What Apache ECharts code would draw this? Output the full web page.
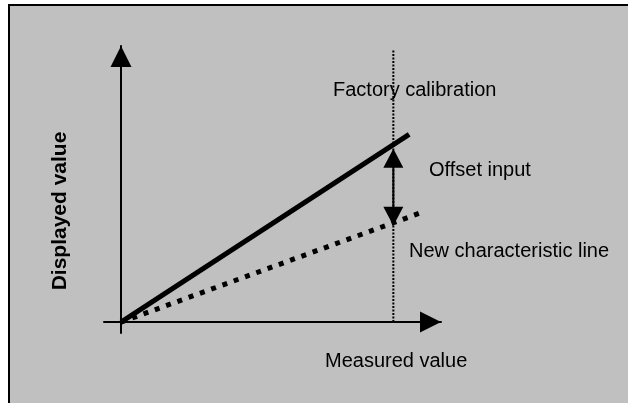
<!DOCTYPE html>
<html>
<head>
<meta charset="utf-8">
<script src="https://cdn.jsdelivr.net/npm/echarts@6/dist/echarts.min.js"></script>
<style>
  html, body { margin: 0; padding: 0; background: #fff; }
  #chart { width: 628px; height: 403px; }
</style>
</head>
<body>
<div id="chart"></div>
<script>
// 校准示意图：出厂特性线与偏移后的新特性线
const factoryLine = [[0, 0], [10.58, 6.9]]
const newLine = [[0, 0], [10.95, 4.0]]
const calibrationMark = [[10, 0], [10, 10]]
const offsetArrow = [[10, 6.02], [10, 3.89]]
const xRange = [-0.625, 11.75]
const yRange = [-0.4, 10.15]
const labels = ['Factory calibration', 'Offset input', 'New characteristic line', 'Measured value', 'Displayed value']

const font = '20px "Liberation Sans", Arial, sans-serif'
const chart = echarts.init(document.getElementById('chart'))

const axisCommon = {
  type: 'value',
  axisLine: {
    onZero: true,
    symbol: ['none', 'triangle'],
    symbolSize: [21, 21],
    symbolOffset: [0, -10.5],
    lineStyle: { color: '#000', width: 2 },
  },
  axisTick: { show: false },
  axisLabel: { show: false },
  splitLine: { show: false },
}

const option = {
  animation: false,
  grid: { left: 104, top: 46, width: 337, height: 287 },
  xAxis: Object.assign({}, axisCommon, { min: xRange[0], max: xRange[1] }),
  yAxis: Object.assign({}, axisCommon, { min: yRange[0], max: yRange[1] }),
  graphic: [
    // 灰色背景框
    {
      type: 'rect', z: -10, silent: true,
      shape: { x: 9, y: 5, width: 640, height: 420 },
      style: { fill: '#c0c0c0', stroke: '#000', lineWidth: 2 },
    },
    { type: 'text', x: 333, y: 90, z: 10, style: { text: labels[0], font: font, fill: '#000', verticalAlign: 'middle' } },
    { type: 'text', x: 429, y: 170.5, z: 10, style: { text: labels[1], font: font, fill: '#000', verticalAlign: 'middle' } },
    { type: 'text', x: 409, y: 251.5, z: 10, style: { text: labels[2], font: font, fill: '#000', verticalAlign: 'middle' } },
    { type: 'text', x: 325, y: 361, z: 10, style: { text: labels[3], font: font, fill: '#000', verticalAlign: 'middle' } },
    {
      type: 'text', x: 60, y: 211, rotation: Math.PI / 2, z: 10,
      style: { text: labels[4], font: 'bold 21px "Liberation Sans", Arial, sans-serif', fill: '#000', align: 'center', verticalAlign: 'middle' },
    },
  ],
  series: [
    {
      type: 'line', silent: true, showSymbol: false, data: calibrationMark,
      lineStyle: { color: '#000', width: 2, type: [2, 1.5] },
    },
    {
      type: 'line', silent: true, showSymbol: false, data: factoryLine,
      lineStyle: { color: '#000', width: 5, cap: 'butt' },
    },
    {
      type: 'line', silent: true, showSymbol: false, data: newLine,
      lineStyle: { color: '#000', width: 5, type: [5, 7], cap: 'butt' },
    },
    {
      type: 'line', silent: true, symbol: 'triangle', symbolSize: [20, 19],
      data: [
        { value: offsetArrow[0] },
        { value: offsetArrow[1], symbolRotate: 180 },
      ],
      itemStyle: { color: '#000', borderWidth: 0 },
      lineStyle: { color: '#000', width: 2 },
    },
  ],
}
chart.setOption(option)
</script>
</body>
</html>
